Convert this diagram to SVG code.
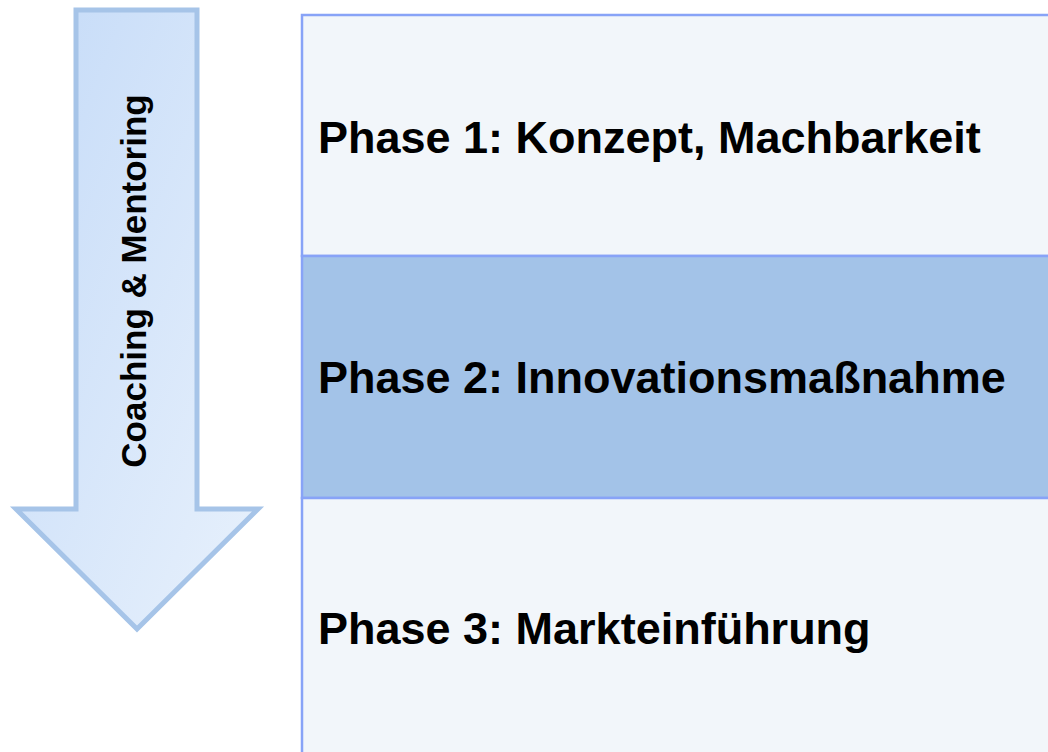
<svg xmlns="http://www.w3.org/2000/svg" width="1048" height="752" viewBox="0 0 1048 752">
<defs>
<linearGradient id="ag" x1="0" y1="0" x2="1" y2="1">
<stop offset="0" stop-color="#c5dbf8"/>
<stop offset="1" stop-color="#e8f1fc"/>
</linearGradient>
<style>
.row{stroke:#88a3f7;stroke-width:2.5}
.light{fill:#f2f6fa}
.dark{fill:#a3c3e8}
.lbl{font-family:"Liberation Sans",Arial,sans-serif;font-weight:bold;font-size:45px;fill:#000}
.vl{font-family:"Liberation Sans",Arial,sans-serif;font-weight:bold;font-size:35px;fill:#000}
</style>
</defs>
<rect width="1048" height="752" fill="#ffffff"/>
<g id="arrow">
<polygon points="76,10 197,10 197,509 258,509 137,629 16,509 76,509" fill="url(#ag)" stroke="#a6c4e8" stroke-width="5"/>
<text class="vl" transform="translate(146,281) rotate(-90)" text-anchor="middle">Coaching &amp; Mentoring</text>
</g>
<g id="phase1">
<rect class="row light" x="302" y="15" width="800" height="241"/>
<text class="lbl" x="318" y="153">Phase 1: Konzept, Machbarkeit</text>
</g>
<g id="phase2">
<rect class="row dark" x="302" y="256" width="800" height="242"/>
<text class="lbl" x="318" y="393">Phase 2: Innovationsmaßnahme</text>
</g>
<g id="phase3">
<rect class="row light" x="302" y="498" width="800" height="270"/>
<text class="lbl" x="318" y="644">Phase 3: Markteinführung</text>
</g>
<g id="connectors"/>
</svg>
